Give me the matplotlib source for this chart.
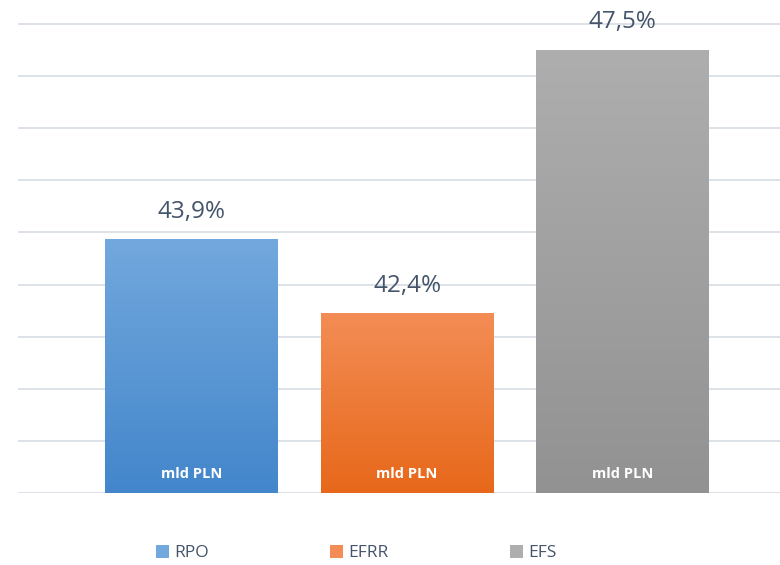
import numpy as np
import matplotlib
matplotlib.use("Agg")
import matplotlib.pyplot as plt
from matplotlib.colors import LinearSegmentedColormap
from matplotlib.patches import Patch

categories = ["RPO", "EFRR", "EFS"]
values = [4.86, 3.44, 8.50]
pct_labels = ["43,9%", "42,4%", "47,5%"]
inner_label = "mld PLN"

# top / bottom colours of the gradient fill
grad_top = ["#72A8DD", "#F38D55", "#AEAEAE"]
grad_bot = ["#4386CB", "#E7681A", "#929292"]

plt.rcParams['font.family'] = ['Open Sans', 'DejaVu Sans']

fig = plt.figure(figsize=(7.8, 5.65), dpi=100)
H = 565.0
unit = 52.11
base = 493.0
ytop = 9.3
ax = fig.add_axes([18 / 780, (H - base) / H, 1 - 18 / 780, ytop * unit / H])

x = np.arange(len(categories))
width = 0.80
bars = ax.bar(x, values, width=width, color="none", zorder=3)

grad = np.linspace(1, 0, 256).reshape(-1, 1)
for b, ct, cb in zip(bars, grad_top, grad_bot):
    cmap = LinearSegmentedColormap.from_list("g", [cb, ct])
    x0, y0 = b.get_x(), b.get_y()
    ax.imshow(grad, cmap=cmap, aspect="auto", zorder=3,
              extent=[x0, x0 + b.get_width(), y0, y0 + b.get_height()],
              interpolation="bicubic")

for xi, v, lab in zip(x, values, pct_labels):
    ax.annotate(lab, (xi, v), xytext=(0, 20), textcoords="offset points",
                ha="center", va="center", fontsize=17.5, color="#44546A")
    ax.annotate(inner_label, (xi, 0), xytext=(0, 14), textcoords="offset points",
                ha="center", va="center", fontsize=10.5, fontweight="bold",
                color="white", zorder=4)

ax.set_xlim(-0.805, 2.73)
ax.set_ylim(0, ytop)
ax.set_yticks(range(10))
ax.set_xticks([])
ax.tick_params(left=False, labelleft=False)
ax.grid(axis="y", color="#DDE2E8", linewidth=1.4, zorder=0)
for s in ax.spines.values():
    s.set_visible(False)

handles = [Patch(facecolor=c, edgecolor="none") for c in grad_top]
fig.legend(handles, categories, loc="center", bbox_to_anchor=(0.457, 1 - 553 / H),
           ncol=3, frameon=False, fontsize=12.5, labelcolor="#44546A",
           handlelength=0.75, handleheight=0.75, handletextpad=0.3,
           columnspacing=7.0)

fig.savefig("out.png", dpi=100)
